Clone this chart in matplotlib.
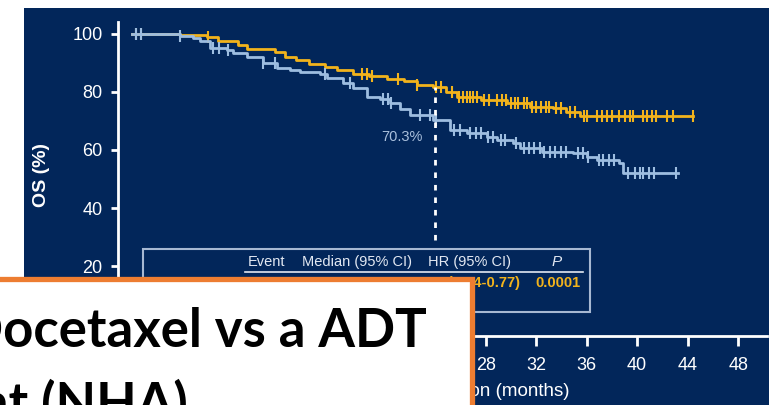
import matplotlib
matplotlib.use("Agg")
import matplotlib.pyplot as plt
from matplotlib.patches import Rectangle
from matplotlib.lines import Line2D
import numpy as np

# ======================
# DATA
# ======================
# yellow arm: event times (months) and OS (%)
yellow_t = [0, 3.8, 5.9, 6.8, 8.4, 9.1, 11.3, 12.1, 13.0, 14.0, 15.3, 16.2, 17.5, 18.8,
            20.2, 21.5, 22.6, 23.8, 24.9, 25.7, 27.6, 29.7, 31.5, 33.3, 34.4, 35.5, 44.4]
yellow_s = [100, 99.6, 99.0, 97.4, 96.2, 94.7, 93.6, 92.2, 91.0, 89.7, 88.7, 87.6, 86.2, 85.5,
            84.4, 83.7, 82.4, 81.6, 80.1, 78.4, 77.2, 76.1, 74.9, 74.5, 73.2, 71.7, 71.7]
yellow_cens = [0.3, 0.7, 6.0, 18.2, 18.6, 19.0, 21.1, 22.6, 24.1, 24.5, 25.3, 25.9, 26.2, 26.5,
               26.8, 27.0, 27.3, 27.9, 28.3, 28.9, 29.3, 29.6, 30.0, 30.3, 30.6, 31.0, 31.3,
               31.7, 32.0, 32.4, 32.8, 33.0, 33.6, 34.0, 34.7, 35.1, 35.8, 36.0, 36.8, 37.2,
               37.6, 38.0, 38.6, 39.0, 39.4, 39.7, 40.5, 40.8, 41.2, 41.5, 42.4, 42.8, 44.4]

# light blue arm
blue_t = [0, 2.2, 3.8, 4.8, 5.4, 6.2, 7.5, 8.0, 9.1, 10.4, 11.5, 12.5, 13.3, 14.9, 15.4, 16.7,
          17.5, 18.6, 19.6, 20.4, 21.2, 22.0, 23.8, 25.2, 26.5, 28.1, 28.9, 30.2, 30.7, 32.5,
          34.9, 36.0, 36.8, 38.6, 38.9, 43.2]
blue_s = [100, 99.8, 99.3, 98.5, 97.4, 95.1, 94.5, 93.3, 92.2, 89.9, 88.2, 87.6, 86.7, 86.2,
          84.7, 83.0, 81.3, 78.4, 77.5, 76.1, 74.0, 72.1, 70.3, 66.9, 65.8, 64.6, 63.4, 62.3,
          60.6, 59.4, 58.9, 57.7, 56.6, 55.4, 52.2, 52.2]
blue_cens = [0.3, 0.7, 3.8, 6.4, 6.9, 7.6, 10.4, 11.3, 15.3, 17.3, 19.9, 20.3, 20.5, 22.8, 23.6,
             24.1, 25.5, 26.0, 26.8, 27.2, 27.6, 28.2, 28.6, 29.2, 29.5, 30.4, 31.0, 31.4, 31.8,
             32.3, 32.6, 33.1, 33.5, 34.0, 34.4, 35.3, 35.7, 36.1, 37.0, 37.3, 37.8, 38.2, 39.3,
             39.8, 40.2, 40.5, 40.9, 41.3, 43.1]

landmark_month = 24
landmark_label = "70.3%"
x_ticks = list(range(0, 49, 4))
y_ticks = [20, 40, 60, 80, 100]

table_header = ["Event", "Median (95% CI)", "HR (95% CI)", "P"]
table_row = ["0.58 (0.44-0.77)", "0.0001"]

NAVY = "#02265a"
YELLOW = "#f2b31c"
BLUE = "#9dbde0"
ORANGE = "#ed7d31"
W, H = 769, 405


def fx(x):
    return x / W


def fy(y):
    return 1 - y / H


def surv_at(t, s, times):
    idx = np.searchsorted(t, times, side="right") - 1
    return np.asarray(s)[idx]


fig = plt.figure(figsize=(W / 100, H / 100), dpi=100)
fig.patch.set_facecolor("white")

# navy slide panel
fig.add_artist(Rectangle((fx(24), 0), fx(W - 24), fy(8), transform=fig.transFigure,
                         facecolor=NAVY, edgecolor="none", zorder=-1))

ax = fig.add_axes([fx(118), fy(336), fx(767 - 118), (336 - 22) / H])
ax.set_facecolor("none")
ax.set_xlim(-1.11, 50.28)
ax.set_ylim(-4.1, 104.1)

# ======================
# CURVES (blue on top, as in the original)
# ======================
for t, s, cens, col in [(yellow_t, yellow_s, yellow_cens, YELLOW),
                        (blue_t, blue_s, blue_cens, BLUE)]:
    ax.step(t, s, where="post", color=col, lw=2)
    ax.plot(cens, surv_at(t, s, cens), ls="none", marker="|", ms=9, mew=1.5, color=col)

y_land = surv_at(yellow_t, yellow_s, [landmark_month])[0]
ax.plot([landmark_month, landmark_month], [29, y_land], color="white", lw=2,
        ls=(0, (2, 2.5)))
ax.text(landmark_month - 2.6, surv_at(blue_t, blue_s, [landmark_month])[0] - 5.8,
        landmark_label, color="#a9bfdc", fontsize=10.5, ha="center", va="center",
        family="Liberation Sans")

# ======================
# AXES STYLE
# ======================
for side in ["top", "right"]:
    ax.spines[side].set_visible(False)
for side in ["left", "bottom"]:
    ax.spines[side].set_color("white")
    ax.spines[side].set_linewidth(2)

ax.set_xticks(x_ticks)
ax.set_yticks(y_ticks)
ax.tick_params(axis="y", colors="white", length=5, width=2, pad=6, labelsize=13)
ax.tick_params(axis="x", colors="white", length=7, width=2, pad=8, labelsize=13)
for lab in ax.get_xticklabels() + ax.get_yticklabels():
    lab.set_family(["Liberation Sans Narrow", "Liberation Sans"])

ax.set_ylabel("OS (%)", color="white", fontsize=14, fontweight="bold",
              family="Liberation Sans", va="center")
ax.yaxis.set_label_coords((42 - 118) / (767 - 118), (336 - 175) / (336 - 22))
ax.set_xlabel("Time from randomization (months)", color="white", fontsize=13.5,
              family="Liberation Sans", ha="right", va="center")
ax.xaxis.set_label_coords((570 - 118) / (767 - 118), -(392 - 336) / (336 - 22))

# ======================
# TABLE BOX
# ======================
tcol = "#e2e8f2"
fig.add_artist(Rectangle((fx(143), fy(312)), fx(590 - 143), (312 - 249) / H,
                         transform=fig.transFigure, facecolor="none",
                         edgecolor="#a7b8d2", lw=1.5, zorder=5))
fig.add_artist(Line2D([fx(245), fx(583)], [fy(272), fy(272)], transform=fig.transFigure,
                      color=tcol, lw=1.2, zorder=5))
for txt, x in zip(table_header[:3], [248, 302, 428]):
    fig.text(fx(x), fy(262), txt, color=tcol, fontsize=10.5, ha="left", va="center",
             family="Liberation Sans", zorder=5)
fig.text(fx(557), fy(262), table_header[3], color=tcol, fontsize=11, ha="center",
         va="center", style="italic", family="Liberation Sans", zorder=5)
fig.text(fx(520), fy(283), table_row[0], color=YELLOW, fontsize=10.5, ha="right",
         va="center", fontweight="bold", family="Liberation Sans", zorder=5)
fig.text(fx(535), fy(283), table_row[1], color=YELLOW, fontsize=10.5, ha="left",
         va="center", fontweight="bold", family="Liberation Sans", zorder=5)

# ======================
# WHITE TITLE BOX ON TOP
# ======================
fig.add_artist(Rectangle((fx(-20), fy(420)), fx(472 + 20), (420 - 279) / H,
                         transform=fig.transFigure, facecolor="white",
                         edgecolor=ORANGE, lw=3.8, zorder=10))
fig.text(fx(427), fy(347), "Docetaxel vs a ADT", color="black", fontsize=38,
         fontweight="bold", family=["Lato", "DejaVu Sans"], ha="right", va="baseline",
         zorder=11)
fig.text(fx(188), fy(420), "agent (NHA)", color="black", fontsize=38,
         fontweight="bold", family=["Lato", "DejaVu Sans"], ha="right", va="baseline",
         zorder=11)

fig.savefig("out.png", dpi=100)
